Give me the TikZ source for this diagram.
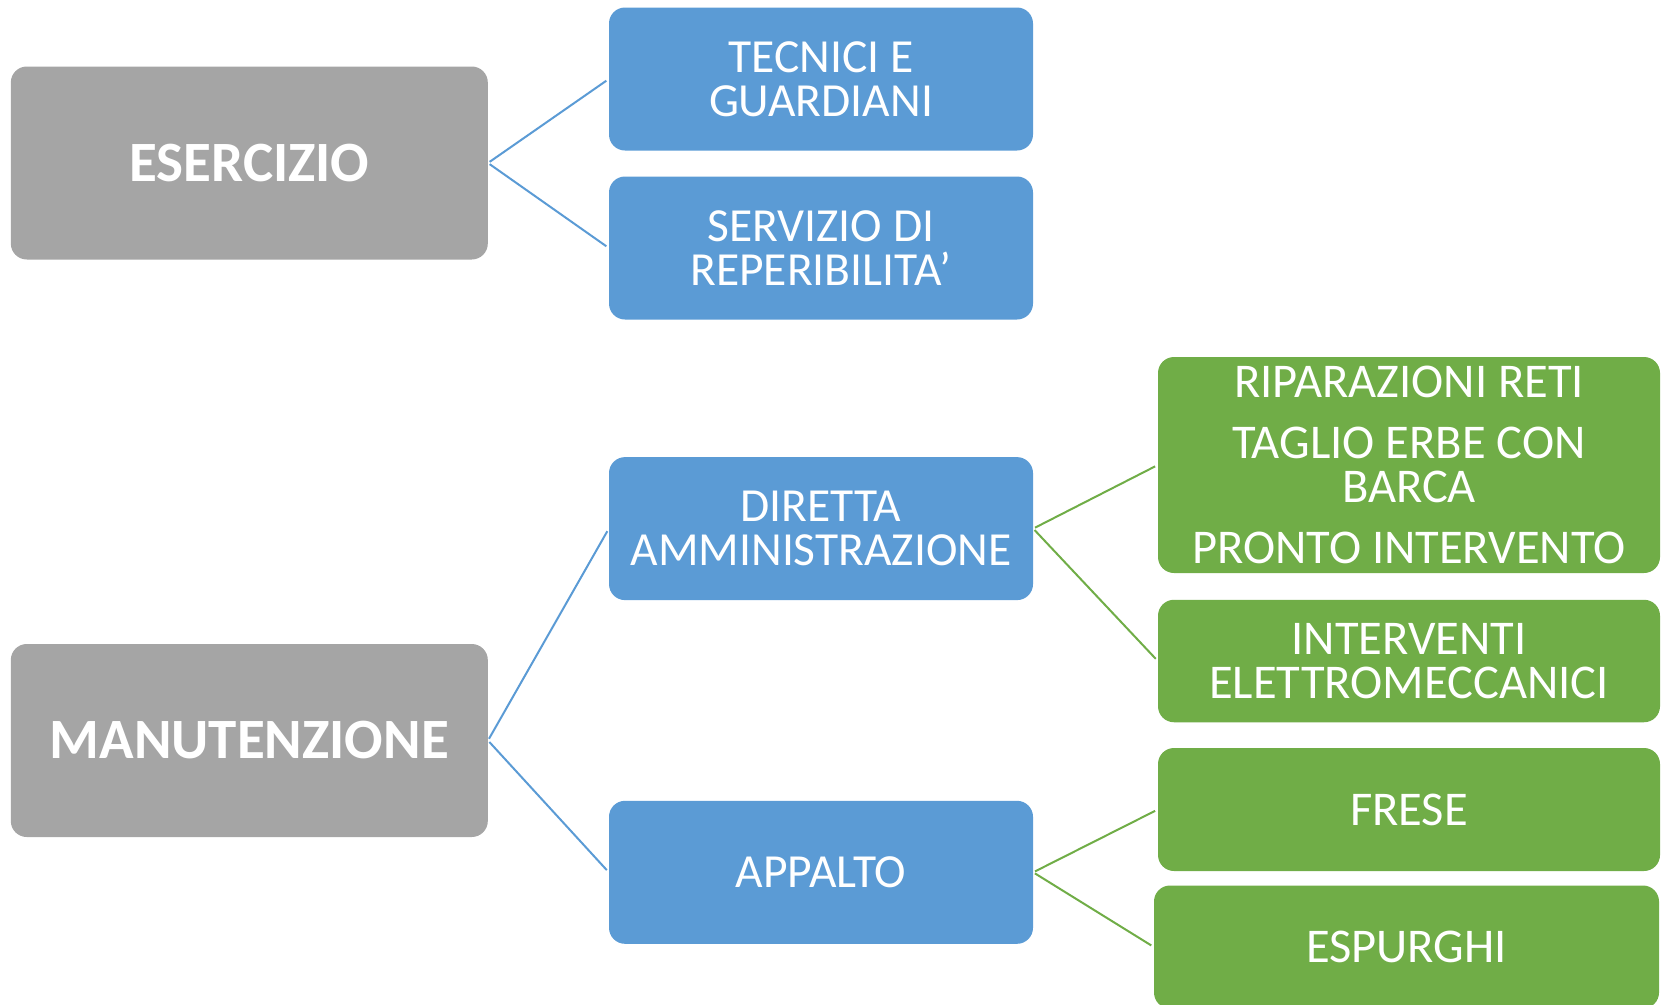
\documentclass[tikz,border=0pt]{standalone}
\usepackage{fontspec}
\setmainfont{Carlito}
\definecolor{cgray}{HTML}{A5A5A5}
\definecolor{cblue}{HTML}{5B9BD5}
\definecolor{cgreen}{HTML}{70AD47}
\tikzset{
  boxbase/.style={rectangle, rounded corners=16pt, inner sep=0pt, align=center, text=white},
  graybox/.style={boxbase, fill=cgray, minimum width=477pt, minimum height=193pt, font=\fontsize{57}{60}\selectfont\bfseries},
  bluebox/.style={boxbase, fill=cblue, minimum width=424pt, minimum height=143pt, font=\fontsize{47.5}{44}\selectfont},
  greenbox/.style={boxbase, fill=cgreen, minimum width=502pt, minimum height=123pt, font=\fontsize{48.5}{44}\selectfont},
  bline/.style={draw=cblue, line width=2pt, shorten <=2pt, shorten >=3pt},
  gline/.style={draw=cgreen, line width=2pt, shorten <=2pt, shorten >=3pt}
}
\begin{document}
\begin{tikzpicture}[x=1pt,y=-1pt]
\useasboundingbox (0,0) rectangle (1661,1004);
\clip (0,0) rectangle (1661,1004);
\node[graybox] (es) at (249.3,163) {ESERCIZIO};
\node[graybox] (man) at (249.3,740.5) {MANUTENZIONE};
\node[bluebox] (tec) at (821,79) {TECNICI E\\GUARDIANI};
\node[bluebox] (ser) at (821,248) {SERVIZIO DI\\REPERIBILITA’};
\node[bluebox] (dir) at (821,528.6) {DIRETTA\\AMMINISTRAZIONE};
\node[bluebox] (app) at (821,872.3) {APPALTO};
\node[greenbox, minimum height=216pt] (g1) at (1409,465) {RIPARAZIONI RETI\\[17pt]TAGLIO ERBE CON\\BARCA\\[17pt]PRONTO INTERVENTO};
\node[greenbox, minimum height=122.5pt] (g2) at (1409,661) {INTERVENTI\\ELETTROMECCANICI};
\node[greenbox] (fre) at (1409,809.5) {FRESE};
\node[greenbox, minimum width=505pt] (esp) at (1406.5,947) {ESPURGHI};
\draw[bline] (es.east) -- (tec.west);
\draw[bline] (es.east) -- (ser.west);
\draw[bline] (man.east) -- (dir.west);
\draw[bline] (man.east) -- (app.west);
\draw[gline] (dir.east) -- (g1.west);
\draw[gline] (dir.east) -- (g2.west);
\draw[gline] (app.east) -- (fre.west);
\draw[gline] (app.east) -- (esp.west);
\end{tikzpicture}
\end{document}
